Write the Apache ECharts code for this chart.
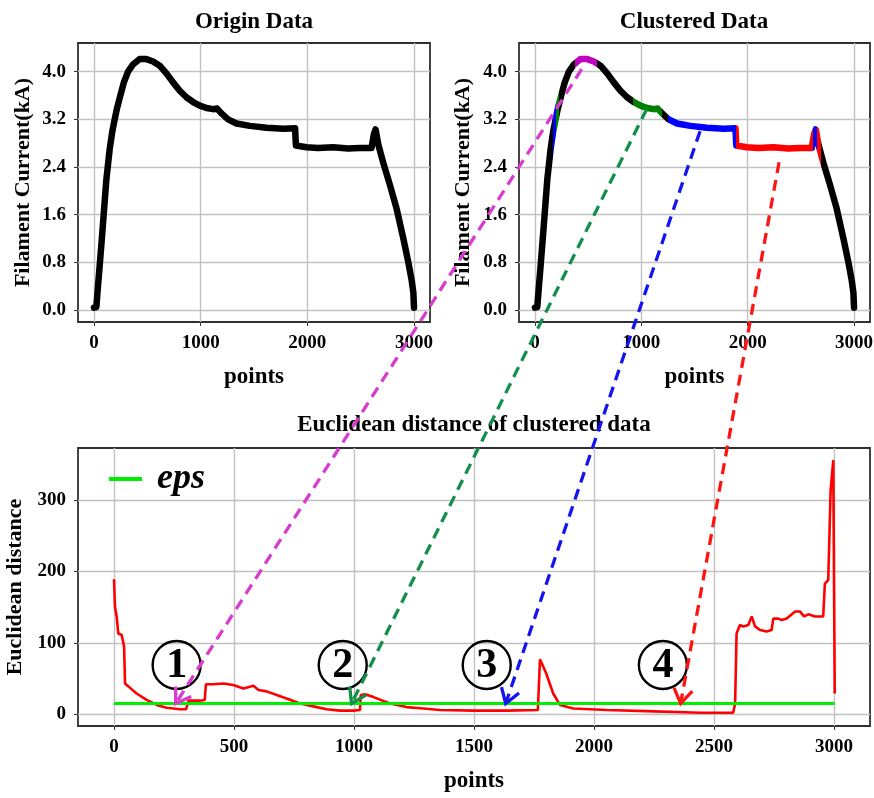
<!DOCTYPE html>
<html>
<head>
<meta charset="utf-8">
<script src="https://cdn.jsdelivr.net/npm/echarts@6/dist/echarts.min.js"></script>
<style>
  html, body { margin: 0; padding: 0; background: #fff; }
  #chart { width: 874px; height: 798px; }
</style>
</head>
<body>
<div id="chart"></div>
<script>
// Filament current over the sampling points (kA)
const currentX = [0, 22, 35, 53, 78, 116, 147, 170, 194, 215, 247, 280, 319, 366, 428, 491, 554, 616, 679, 741,
  804, 866, 929, 992, 1054, 1117, 1154, 1195, 1257, 1336, 1461, 1617, 1774, 1885, 1893, 1992, 2100, 2243, 2380, 2493,
  2602, 2624, 2640, 2665, 2712, 2774, 2837, 2900, 2947, 2978, 2994, 3000];
const currentY = [0.04, 0.05, 0.35, 0.74, 1.30, 2.19, 2.70, 2.98, 3.20, 3.38, 3.60, 3.82, 4.00, 4.12, 4.21, 4.21, 4.17, 4.10, 3.97, 3.82,
  3.68, 3.57, 3.49, 3.43, 3.39, 3.37, 3.38, 3.30, 3.20, 3.13, 3.09, 3.06, 3.04, 3.05, 2.76, 2.73, 2.72, 2.73, 2.71, 2.72,
  2.72, 2.95, 3.03, 2.78, 2.47, 2.10, 1.70, 1.20, 0.80, 0.50, 0.29, 0.04];

// Euclidean distance of each point to its neighbours
const distX = [0, 4, 11, 18, 32, 42, 46, 60, 94, 136, 178, 219, 275, 300, 306, 310, 358, 378, 383, 414,
  456, 497, 539, 581, 602, 636, 678, 719, 775, 831, 886, 942, 997, 1025, 1028, 1046, 1081, 1150, 1219, 1289,
  1358, 1497, 1636, 1766, 1775, 1801, 1830, 1858, 1914, 2053, 2250, 2442, 2580, 2588, 2594, 2608, 2622, 2643, 2657, 2671,
  2692, 2719, 2740, 2747, 2768, 2782, 2803, 2838, 2858, 2875, 2893, 2921, 2955, 2962, 2976, 2986, 2997, 3003];
const distY = [189, 151, 137, 113, 111, 95, 43, 39, 29, 20, 13, 9, 7, 7, 13, 19, 19, 20, 42, 42,
  43, 41, 36, 40, 34, 32, 27, 22, 15, 11, 7, 5, 5, 6, 27, 28, 24, 15, 10, 8,
  6, 5, 5, 6, 77, 57, 29, 13, 8, 6, 4, 2, 2, 15, 113, 125, 123, 125, 137, 123,
  118, 116, 118, 134, 134, 132, 134, 144, 144, 137, 140, 137, 137, 183, 188, 314, 356, 29];
const epsValue = 15;

// Cluster membership along the points axis (cluster ids 1..4)
const clusterStart = [170, 196, 380, 922, 1250, 1889, 2618, 2650];
const clusterEnd   = [196, 222, 580, 1194, 1889, 2618, 2650, 2690];
const clusterId    = [3, 2, 1, 2, 3, 4, 3, 4];

// Tick values
const currentTicks = [0.0, 0.8, 1.6, 2.4, 3.2, 4.0];
const pointTicks = [0, 1000, 2000, 3000];
const distPointTicks = [0, 500, 1000, 1500, 2000, 2500, 3000];
const distTicks = [0, 100, 200, 300];

// Arrows from each cluster on the clustered curve to its stretch below eps
const arrowFromX = [439, 1050, 1552, 2295];
const arrowFromY = [4.04, 3.37, 3.00, 2.48];
const arrowToX = [257, 990, 1632, 2361];
// Circled cluster numbers on the distance plot
const markerX = [261, 953, 1553, 2287];
const markerY = 69;
const markerText = ['1', '2', '3', '4'];

const font = "'Liberation Serif', 'Times New Roman', serif";
const clusterColor = { 1: '#bf00bf', 2: '#008000', 3: '#0000ff', 4: '#ff0000' };
const arrowColor = { 1: '#d83ccf', 2: '#128f48', 3: '#1414f0', 4: '#ff1414' };
const toPairs = (xs, ys) => xs.map((x, i) => [x, ys[i]]);

const frame = { show: true, borderColor: '#303030', borderWidth: 1.8, backgroundColor: 'transparent', outerBoundsMode: 'none' };
const gridLine = { show: true, lineStyle: { color: '#c2c2c2', width: 1.4 } };
const tickFont = { fontFamily: font, fontWeight: 'bold', fontSize: 19, color: '#000' };
const nameFont = { fontFamily: font, fontWeight: 'bold', fontSize: 23, color: '#000' };

function xAxisFor(gridIndex, ticks) {
  return {
    type: 'value', gridIndex, min: -150, max: 3150,
    name: 'points', nameLocation: 'middle', nameGap: 44, nameTextStyle: nameFont,
    axisLine: { show: false, onZero: false },
    axisTick: { show: true, length: 4, customValues: ticks, lineStyle: { color: '#303030' } },
    axisLabel: Object.assign({ customValues: ticks, margin: 12, formatter: v => String(v) }, tickFont),
    splitLine: gridLine
  };
}
function yAxisFor(gridIndex, min, max, ticks, name, gap, fmt) {
  return {
    type: 'value', gridIndex, min, max,
    name, nameLocation: 'middle', nameGap: gap, nameTextStyle: Object.assign({}, nameFont, { fontSize: 22 }),
    axisLine: { show: false, onZero: false },
    axisTick: { show: true, length: 4, customValues: ticks, lineStyle: { color: '#303030' } },
    axisLabel: Object.assign({ customValues: ticks, margin: 12, formatter: fmt }, tickFont),
    splitLine: gridLine
  };
}

const chart = echarts.init(document.getElementById('chart'));

const titles = [
  { text: 'Origin Data', x: 254, y: 22 },
  { text: 'Clustered Data', x: 694, y: 22 },
  { text: 'Euclidean distance of clustered data', x: 474, y: 425 }
].map(t => ({
  type: 'text', x: t.x, y: t.y, z: 50,
  style: { text: t.text, align: 'center', verticalAlign: 'middle', fill: '#000',
           fontFamily: font, fontWeight: 'bold', fontSize: 23 }
}));

chart.setOption({
  animation: false,
  backgroundColor: '#fff',
  grid: [
    Object.assign({ left: 78, top: 43, width: 352, height: 279 }, frame),
    Object.assign({ left: 519, top: 43, width: 351, height: 279 }, frame),
    Object.assign({ left: 78, top: 448, width: 792, height: 278 }, frame)
  ],
  xAxis: [xAxisFor(0, pointTicks), xAxisFor(1, pointTicks), xAxisFor(2, distPointTicks)],
  yAxis: [
    yAxisFor(0, -0.2, 4.48, currentTicks, 'Filament Current(kA)', 44, v => v.toFixed(1)),
    yAxisFor(1, -0.2, 4.48, currentTicks, 'Filament Current(kA)', 45, v => v.toFixed(1)),
    yAxisFor(2, -16.5, 373, distTicks, 'Euclidean distance', 49, v => String(v))
  ],
  legend: {
    data: [{ name: 'eps', icon: 'rect' }], left: 109, top: 461, padding: 0,
    itemWidth: 33, itemHeight: 4,
    textStyle: { fontFamily: font, fontStyle: 'italic', fontWeight: 'bold', fontSize: 36, color: '#000', padding: [0, 0, 0, 10] }
  },
  visualMap: [{
    type: 'piecewise', show: false, dimension: 0, seriesIndex: 1,
    pieces: clusterStart.map((s, i) => ({ gte: s, lt: clusterEnd[i], color: clusterColor[clusterId[i]] })),
    outOfRange: { color: '#000' }
  }],
  series: [
    {
      name: 'origin', type: 'line', xAxisIndex: 0, yAxisIndex: 0,
      data: toPairs(currentX, currentY), symbol: 'none', silent: true,
      lineStyle: { color: '#000', width: 6.5, cap: 'round', join: 'round' }, itemStyle: { color: '#000' }
    },
    {
      name: 'clustered', type: 'line', xAxisIndex: 1, yAxisIndex: 1,
      data: toPairs(currentX, currentY), symbol: 'none', silent: true,
      lineStyle: { width: 6.5, cap: 'round', join: 'round' }
    },
    {
      name: 'distance', type: 'line', xAxisIndex: 2, yAxisIndex: 2,
      data: toPairs(distX, distY), symbol: 'none', silent: true,
      lineStyle: { color: '#ff0000', width: 2.6 }, itemStyle: { color: '#ff0000' }
    },
    {
      name: 'eps', type: 'line', xAxisIndex: 2, yAxisIndex: 2, z: 4,
      data: [[distX[0], epsValue], [distX[distX.length - 1], epsValue]], symbol: 'none', silent: true,
      lineStyle: { color: '#00ee00', width: 3.2 }, itemStyle: { color: '#00ee00' }
    }
  ],
  graphic: titles
});

// Dashed arrows and circled cluster numbers, placed through the axes' own scales
function arrow(p0, p1, color) {
  const dx = p1[0] - p0[0], dy = p1[1] - p0[1];
  const len = Math.hypot(dx, dy);
  const bx = -dx / len, by = -dy / len;
  const head = 17, ang = 33 * Math.PI / 180;
  const arm = a => [p1[0] + head * (bx * Math.cos(a) - by * Math.sin(a)),
                    p1[1] + head * (bx * Math.sin(a) + by * Math.cos(a))];
  return [
    { type: 'line', z: 100, shape: { x1: p0[0], y1: p0[1], x2: p1[0], y2: p1[1] },
      style: { stroke: color, lineWidth: 3.3, lineDash: [11, 7] } },
    { type: 'polyline', z: 100, shape: { points: [arm(ang), p1, arm(-ang)] },
      style: { stroke: color, lineWidth: 3.3, fill: null } }
  ];
}

const extra = [];
markerX.forEach((mx, i) => {
  const c = chart.convertToPixel({ gridIndex: 2 }, [mx, markerY]);
  extra.push({ type: 'circle', z: 60, shape: { cx: c[0], cy: c[1], r: 24 },
               style: { fill: '#fff', fillOpacity: 0, stroke: '#000', lineWidth: 2.4 } });
  extra.push({ type: 'text', z: 61, x: c[0], y: c[1] + 1,
               style: { text: markerText[i], align: 'center', verticalAlign: 'middle', fill: '#000',
                        fontFamily: font, fontWeight: 'bold', fontSize: 42 } });
});
arrowFromX.forEach((fx, i) => {
  const p0 = chart.convertToPixel({ gridIndex: 1 }, [fx, arrowFromY[i]]);
  const p1 = chart.convertToPixel({ gridIndex: 2 }, [arrowToX[i], epsValue]);
  extra.push(...arrow(p0, p1, arrowColor[i + 1]));
});

chart.setOption({ graphic: titles.concat(extra) });
</script>
</body>
</html>
